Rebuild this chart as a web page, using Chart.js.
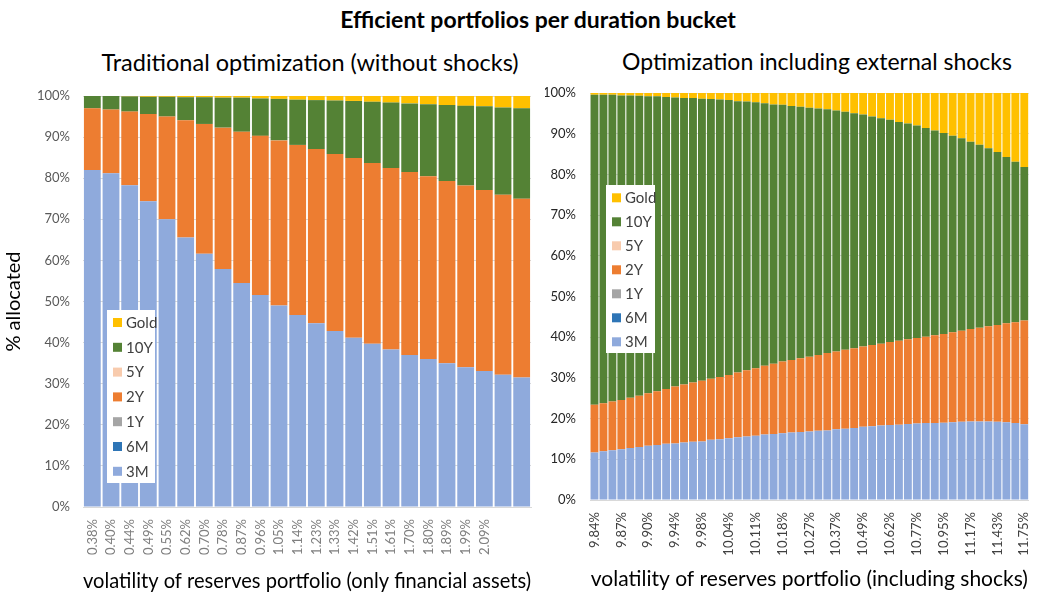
<!DOCTYPE html>
<html>
<head>
<meta charset="utf-8">
<script src="https://cdn.jsdelivr.net/npm/chart.js@4.4.1/dist/chart.umd.min.js"></script>
<style>
  body { margin: 0; background: #fff; width: 1044px; height: 599px; position: relative; overflow: hidden; font-family: Lato, sans-serif; }
  .t { position: absolute; white-space: nowrap; color: #000; transform: translateX(-50%); line-height: 1.2; }
  #left { position: absolute; left: 0; top: 0; }
  #right { position: absolute; left: 545px; top: 0; }
</style>
</head>
<body>
<div class="t" style="left:538px;top:6px;font-size:23px;font-weight:bold">Efficient portfolios per duration bucket</div>
<div class="t" style="left:310px;top:48px;font-size:23.5px">Traditional optimization (without shocks)</div>
<div class="t" style="left:817px;top:48px;font-size:23px">Optimization including external shocks</div>
<canvas id="left" width="545" height="599"></canvas>
<canvas id="right" width="499" height="599"></canvas>
<script>
// left panel: without shocks
const leftLabels = ['0.38%','0.40%','0.44%','0.49%','0.55%','0.62%','0.70%','0.78%','0.87%','0.96%','1.05%','1.14%',
  '1.23%','1.33%','1.42%','1.51%','1.61%','1.70%','1.80%','1.89%','1.99%','2.09%','',''];
const left3M = [82.0,81.2,78.3,74.4,70.0,65.6,61.6,57.9,54.5,51.6,49.0,46.7,44.7,42.8,41.2,39.7,38.3,37.0,36.0,35.0,34.0,33.1,32.2,31.5];
const left6M = [0,0,0,0,0,0,0,0,0,0,0,0,0,0,0,0,0,0,0,0,0,0,0,0];
const left1Y = [0,0,0,0,0,0,0,0,0,0,0,0,0,0,0,0,0,0,0,0,0,0,0,0];
const left2Y = [15.0,15.5,17.9,21.2,25.0,28.5,31.6,34.4,36.8,38.7,40.2,41.4,42.4,43.1,43.7,44.0,44.2,44.5,44.5,44.3,44.2,44.0,43.8,43.5];
const left5Y = [0,0,0,0,0,0,0,0,0,0,0,0,0,0,0,0,0,0,0,0,0,0,0,0];
const left10Y = [3.0,3.3,3.7,4.2,4.8,5.6,6.5,7.3,8.3,9.1,10.1,11.0,11.9,13.0,13.9,14.9,15.9,16.7,17.5,18.5,19.4,20.4,21.2,22.0];
const leftGold = [0,0,0.1,0.2,0.2,0.3,0.3,0.4,0.4,0.6,0.7,0.9,1.0,1.1,1.2,1.4,1.6,1.8,2.0,2.2,2.4,2.5,2.8,3.0];

// right panel: with external shocks (only every third label is shown)
const rightLabels = ['9.84%','','','9.87%','','','9.90%','','','9.94%','','','9.98%','','','10.04%','','',
  '10.11%','','','10.18%','','','10.27%','','','10.37%','','','10.49%','','','10.62%','','',
  '10.77%','','','10.95%','','','11.17%','','','11.43%','','','11.75%'];
const right3M = [11.7,12.0,12.2,12.5,12.8,13.0,13.3,13.5,13.8,13.9,14.1,14.3,14.4,14.8,14.9,15.2,15.4,15.6,15.8,16.1,
  16.2,16.4,16.6,16.7,16.8,17.0,17.1,17.4,17.5,17.7,18.0,18.1,18.3,18.4,18.5,18.7,18.8,18.9,18.9,19.0,
  19.1,19.2,19.3,19.3,19.3,19.2,19.1,18.9,18.6];
const right6M = [0,0,0,0,0,0,0,0,0,0,0,0,0,0,0,0,0,0,0,0,0,0,0,0,0,0,0,0,0,0,0,0,0,0,0,0,0,0,0,0,0,0,0,0,0,0,0,0,0];
const right1Y = [0,0,0,0,0,0,0,0,0,0,0,0,0,0,0,0,0,0,0,0,0,0,0,0,0,0,0,0,0,0,0,0,0,0,0,0,0,0,0,0,0,0,0,0,0,0,0,0,0];
const right2Y = [11.7,11.8,12.0,12.1,12.3,12.6,12.9,13.2,13.5,14.0,14.3,14.6,14.9,15.0,15.3,15.5,15.9,16.3,16.6,16.9,
  17.3,17.6,17.8,18.1,18.4,18.6,19.0,19.1,19.4,19.6,19.7,20.0,20.1,20.4,20.6,20.8,21.0,21.2,21.6,21.8,
  22.1,22.4,22.7,23.0,23.4,23.8,24.3,24.8,25.5];
const right5Y = [0,0,0,0,0,0,0,0,0,0,0,0,0,0,0,0,0,0,0,0,0,0,0,0,0,0,0,0,0,0,0,0,0,0,0,0,0,0,0,0,0,0,0,0,0,0,0,0,0];
const right10Y = [76.2,75.8,75.4,74.8,74.3,73.7,73.0,72.5,71.7,71.0,70.4,69.9,69.3,68.7,68.2,67.6,66.7,66.0,65.3,64.5,
  63.7,63.1,62.4,61.8,61.2,60.6,59.9,59.2,58.5,57.7,57.0,56.1,55.4,54.6,53.8,53.0,52.2,51.3,50.3,49.4,
  48.3,47.3,46.0,45.0,43.7,42.5,40.9,39.4,37.7];
const rightGold = [0.4,0.4,0.4,0.6,0.6,0.7,0.8,0.8,1.0,1.1,1.2,1.2,1.4,1.5,1.6,1.7,2.0,2.1,2.3,2.5,
  2.8,2.9,3.2,3.4,3.6,3.8,4.0,4.3,4.6,5.0,5.3,5.8,6.2,6.6,7.1,7.5,8.0,8.6,9.2,9.8,
  10.5,11.1,12.0,12.7,13.6,14.5,15.7,16.9,18.2];

const seriesNames = ['3M','6M','1Y','2Y','5Y','10Y','Gold'];
const seriesColors = ['#8FAADC','#2E75B6','#A5A5A5','#ED7D31','#F8CBAD','#548235','#FFC000'];

// legend box drawn inside the plot area, top item = last dataset
const boxLegend = {
  id: 'boxLegend',
  afterDatasetsDraw(chart, args, o) {
    const ctx = chart.ctx, a = chart.chartArea;
    const x = a.left + o.dx, y = a.top + o.dy;
    ctx.save();
    ctx.fillStyle = '#fff';
    ctx.fillRect(x, y, o.w, o.h);
    ctx.font = '15px Lato';
    ctx.textBaseline = 'middle';
    chart.data.datasets.slice().reverse().forEach((ds, i) => {
      const cy = y + o.first + i * o.step;
      ctx.fillStyle = ds.backgroundColor;
      ctx.fillRect(x + 6, cy - 4, 9, 9);
      ctx.fillStyle = '#404040';
      ctx.fillText(ds.label, x + 19, cy + 1);
    });
    ctx.restore();
  }
};

function makeSets(list, catPct) {
  return list.map((d, i) => ({
    label: seriesNames[i],
    data: d,
    backgroundColor: seriesColors[i],
    borderWidth: 0,
    barPercentage: 1,
    categoryPercentage: catPct
  }));
}

const leftChart = new Chart(document.getElementById('left'), {
  type: 'bar',
  data: {
    labels: leftLabels,
    datasets: makeSets([left3M, left6M, left1Y, left2Y, left5Y, left10Y, leftGold], 0.9)
  },
  plugins: [boxLegend],
  options: {
    responsive: false,
    animation: false,
    layout: { padding: { top: 96, right: 14, left: 0, bottom: 0 } },
    scales: {
      x: {
        stacked: true,
        grid: { display: false },
        border: { color: '#d9d9d9' },
        ticks: { minRotation: 90, maxRotation: 90, autoSkip: false, padding: 4, color: '#7f7f7f', font: { family: 'Lato', size: 13 } },
        title: { display: true, text: 'volatility of reserves portfolio (only financial assets)', color: '#000', font: { family: 'Lato', size: 21 }, padding: { top: 0, bottom: 5 } },
        afterFit(s) { s.height = 92; }
      },
      y: {
        stacked: true,
        min: 0, max: 100,
        grid: { color: '#d9d9d9', drawTicks: false },
        border: { display: false },
        ticks: { stepSize: 10, padding: 13, color: '#595959', font: { family: 'Lato', size: 13 }, callback: v => v + '%' },
        title: { display: true, text: '% allocated', color: '#000', font: { family: 'Lato', size: 20 }, padding: { top: 2, bottom: 0 } },
        afterFit(s) { s.width = 83; }
      }
    },
    plugins: {
      legend: { display: false },
      tooltip: { enabled: false },
      boxLegend: { dx: 24, dy: 214, w: 48, h: 173, first: 12, step: 24.8 }
    }
  }
});

const rightChart = new Chart(document.getElementById('right'), {
  type: 'bar',
  data: {
    labels: rightLabels,
    datasets: makeSets([right3M, right6M, right1Y, right2Y, right5Y, right10Y, rightGold], 0.88)
  },
  plugins: [boxLegend],
  options: {
    responsive: false,
    animation: false,
    layout: { padding: { top: 93, right: 11, left: 0, bottom: 0 } },
    scales: {
      x: {
        stacked: true,
        grid: { display: false },
        border: { color: '#d9d9d9' },
        ticks: { minRotation: 90, maxRotation: 90, autoSkip: false, padding: 4, color: '#404040', font: { family: 'Lato', size: 13 } },
        title: { display: true, text: 'volatility of reserves portfolio (including shocks)', color: '#000', font: { family: 'Lato', size: 21 }, padding: { top: 0, bottom: 7 } },
        afterFit(s) { s.height = 99; }
      },
      y: {
        stacked: true,
        min: 0, max: 100,
        grid: { color: '#d9d9d9', drawTicks: false },
        border: { display: false },
        ticks: { stepSize: 10, padding: 14, color: '#262626', font: { family: 'Lato', size: 13 }, callback: v => v + '%' },
        afterFit(s) { s.width = 45; }
      }
    },
    plugins: {
      legend: { display: false },
      tooltip: { enabled: false },
      boxLegend: { dx: 16, dy: 92, w: 49, h: 168, first: 12.3, step: 24 }
    }
  }
});
</script>
</body>
</html>
